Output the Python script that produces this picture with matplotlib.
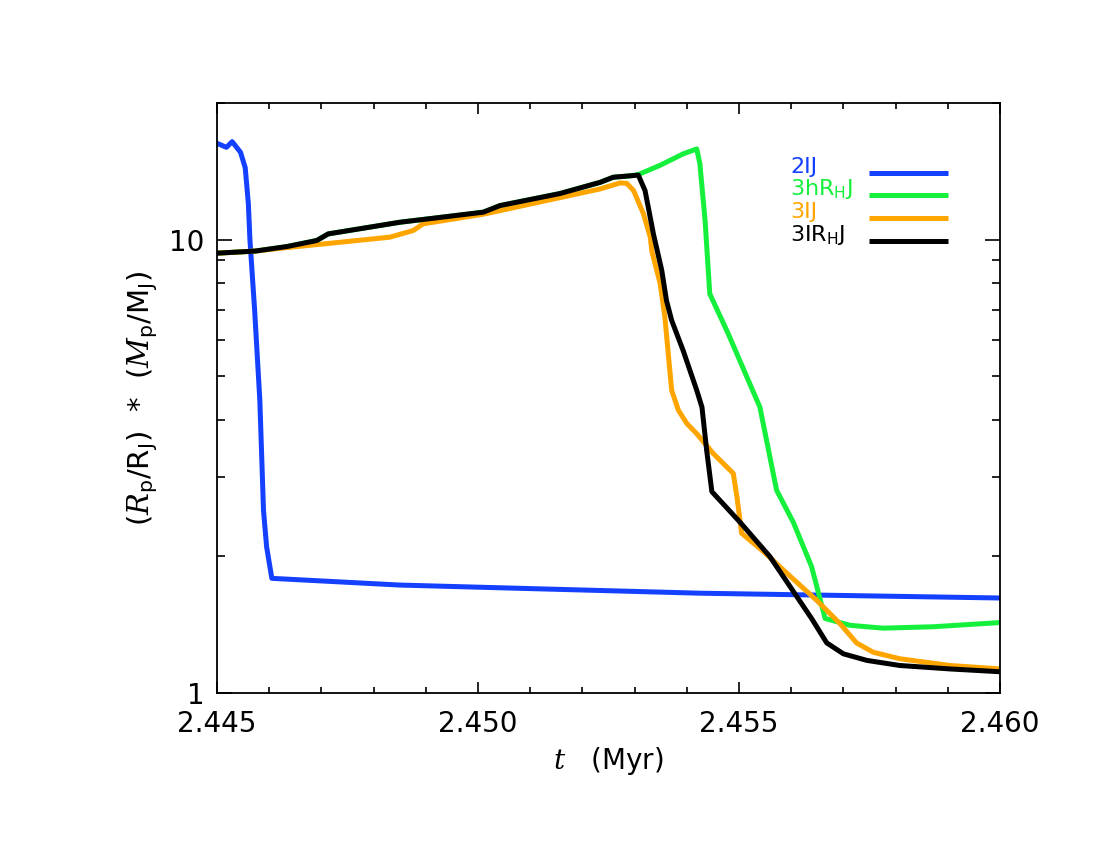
import matplotlib
matplotlib.use("Agg")
import matplotlib.pyplot as plt
from matplotlib.ticker import MultipleLocator, FormatStrFormatter, LogLocator, NullFormatter
import numpy as np

plt.rcParams['font.family'] = ['DejaVu Sans']
plt.rcParams['mathtext.fontset'] = 'custom'
plt.rcParams['mathtext.rm'] = 'DejaVu Sans'
plt.rcParams['mathtext.it'] = 'DejaVu Serif:italic'
plt.rcParams['mathtext.bf'] = 'DejaVu Serif:bold'

# --- data (t in Myr, value = Rp/RJ * Mp/MJ)
t_2IJ = [2.44500, 2.44518, 2.44529, 2.44545, 2.44554, 2.44560, 2.44563, 2.44572,
         2.44582, 2.44589, 2.44595, 2.44605, 2.44850, 2.45425, 2.46000]
v_2IJ = [16.3, 15.97, 16.44, 15.57, 14.4, 12.0, 10.0, 7.0,
         4.42, 2.53, 2.10, 1.79, 1.73, 1.66, 1.62]

t_3IRHJ = [2.44500, 2.44573, 2.44634, 2.44691, 2.44713, 2.44851, 2.44914, 2.45010,
           2.45042, 2.45157, 2.45234, 2.45259, 2.45298, 2.45307, 2.45320, 2.45336,
           2.45352, 2.45361, 2.45371, 2.45393, 2.45419, 2.45429, 2.45438, 2.45448,
           2.45502, 2.45559, 2.45611, 2.45639, 2.45668, 2.45700, 2.45745, 2.45808,
           2.45904, 2.46000]
v_3IRHJ = [9.33, 9.43, 9.65, 9.95, 10.29, 10.92, 11.14, 11.49,
           11.88, 12.63, 13.37, 13.72, 13.84, 13.87, 12.82, 10.29,
           8.55, 7.34, 6.63, 5.69, 4.65, 4.27, 3.43, 2.78,
           2.38, 2.00, 1.63, 1.46, 1.29, 1.22, 1.18, 1.15,
           1.13, 1.114]

t_3hRHJ = [2.44500, 2.44573, 2.44634, 2.44691, 2.44713, 2.44851, 2.44914, 2.45010,
           2.45042, 2.45157, 2.45234, 2.45259, 2.45298, 2.45310, 2.45350, 2.45393,
           2.45419, 2.45425, 2.45435, 2.45444, 2.45479, 2.45540, 2.45572, 2.45604,
           2.45639, 2.45665, 2.45713, 2.45776, 2.45872, 2.46000]
v_3hRHJ = [9.33, 9.43, 9.65, 9.95, 10.29, 10.92, 11.14, 11.49,
           11.88, 12.63, 13.37, 13.72, 13.84, 13.95, 14.6, 15.45,
           15.84, 14.70, 11.01, 7.59, 6.21, 4.27, 2.80, 2.38,
           1.90, 1.46, 1.41, 1.39, 1.40, 1.43]

t_3IJ = [2.44500, 2.44573, 2.44634, 2.44716, 2.44831, 2.44876, 2.44895, 2.45010,
         2.45234, 2.45272, 2.45285, 2.45298, 2.45317, 2.45330, 2.45333, 2.45349,
         2.45358, 2.45365, 2.45371, 2.45384, 2.45400, 2.45419, 2.45451, 2.45489,
         2.45496, 2.45505, 2.45547, 2.45591, 2.45649, 2.45694, 2.45725, 2.45757,
         2.45808, 2.45904, 2.46000]
v_3IJ = [9.33, 9.43, 9.60, 9.81, 10.12, 10.47, 10.83, 11.37,
         12.93, 13.33, 13.3, 12.82, 11.39, 10.12, 9.43, 7.99,
         6.74, 5.51, 4.65, 4.20, 3.93, 3.73, 3.37, 3.05,
         2.71, 2.25, 2.05, 1.84, 1.60, 1.42, 1.29, 1.23,
         1.19, 1.15, 1.13]

labels = ['2IJ', r'3hR$_{\rm H}$J', '3IJ', r'3IR$_{\rm H}$J']
colors = ['#1440ff', '#14f03c', '#ffa500', 'black']

fig = plt.figure(figsize=(11, 8.5), dpi=100)
ax = fig.add_axes([0.1973, 0.1847, 0.7118, 0.6941])

series = [(t_2IJ, v_2IJ), (t_3hRHJ, v_3hRHJ), (t_3IJ, v_3IJ), (t_3IRHJ, v_3IRHJ)]
for (tt, vv), c in zip(series, colors):
    ax.plot(tt, vv, color=c, lw=3.6, solid_joinstyle='round')

ax.set_yscale('log')
ax.set_xlim(2.445, 2.460)
ax.set_ylim(1, 20)

ax.xaxis.set_major_locator(MultipleLocator(0.005))
ax.xaxis.set_minor_locator(MultipleLocator(0.001))
ax.xaxis.set_major_formatter(FormatStrFormatter('%.3f'))
ax.yaxis.set_major_locator(LogLocator(base=10))
ax.yaxis.set_minor_locator(LogLocator(base=10, subs=np.arange(2, 10)))
ax.yaxis.set_minor_formatter(NullFormatter())
ax.yaxis.set_major_formatter(FormatStrFormatter('%d'))

ax.tick_params(which='both', direction='in', top=True, right=True, width=1.2, labelsize=20)
ax.tick_params(axis='x', which='major', length=8, pad=12)
ax.tick_params(axis='x', which='minor', length=4.5)
ax.tick_params(axis='y', which='major', length=11, pad=9)
ax.tick_params(axis='y', which='minor', length=6)
for s in ax.spines.values():
    s.set_linewidth(1.3)

ax.set_xlabel(r'$\mathit{t}$   (Myr)', fontsize=20)
ax.xaxis.set_label_coords(0.5, -0.088)
ax.set_ylabel(r'$(\mathit{R}_{\rm p}/{\rm R}_{\rm J})$  *  $(\mathbf{\mathit{M}}_{\rm p}/{\rm M}_{\rm J})$', fontsize=21)
ax.yaxis.set_label_coords(-0.073, 0.5)

# legend drawn by hand: text left, coloured line right
leg_y = [0.882, 0.844, 0.805, 0.766]
for lab, c, y in zip(labels, colors, leg_y):
    ax.text(0.732, y, lab, color=c, fontsize=16, transform=ax.transAxes, va='baseline', ha='left')
    ax.plot([0.833, 0.934], [y, y], color=c, lw=3.6, transform=ax.transAxes, solid_capstyle='butt')

fig.savefig('out.png', dpi=100)
